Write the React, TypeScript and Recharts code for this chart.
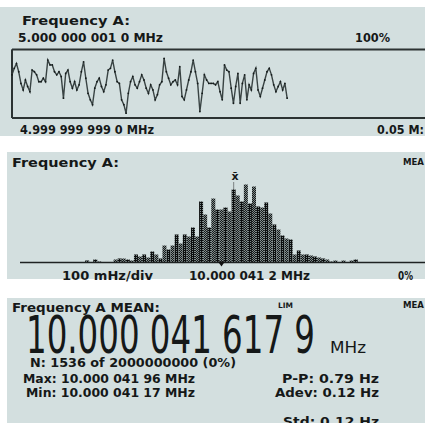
import React from "react";
import {
  LineChart,
  Line,
  BarChart,
  Bar,
  Cell,
  XAxis,
  YAxis,
  CartesianGrid,
  ReferenceLine,
  ReferenceDot,
} from "recharts";

// trend of frequency A, offset from 5 MHz in mHz (top = +1, bottom = -1)
const trendValues = [
  0.26, 0.45, 0.59, 0.35, 0.01, -0.18, 0.11, -0.08, -0.23, 0.4,
  0.35, 0.26, 0.06, 0.06, 0.16, 0.06, 0.69, 0.55, 0.55, 0.35,
  0.26, 0.35, 0.21, -0.42, 0.3, 0.4, 0.06, -0.13, 0.06, -0.18,
  -0.03, 0.35, 0.64, 0.16, -0.28, -0.47, -0.61, -0.13, 0.06, 0.16,
  -0.08, -0.23, -0.03, 0.4, 0.45, 0.69, 0.35, 0.06, 0.01, -0.47,
  -0.61, -0.86, -0.28, 0.06, 0.21, -0.03, -0.13, 0.06, 0.26, 0.11,
  -0.13, -0.28, -0.03, -0.18, -0.47, -0.32, -0.03, 0.06, 0.74, 0.35,
  0.16, -0.03, 0.06, 0.11, -0.03, 0.5, -0.37, -0.47, -0.18, 0.11,
  0.35, 0.69, 0.35, 0.01, -0.81, -0.28, 0.26, 0.11, 0.01, 0.01,
  0.01, -0.03, 0.06, -0.23, -0.47, 0.55, 0.4, 0.35, -0.13, -0.57,
  -0.08, 0.3, -0.57, 0.01, 0.26, -0.47, -0.03, -0.18, 0.3, 0.45,
  -0.18, -0.37, -0.13, 0.11, 0.35, 0.45, 0.26, -0.03, -0.23, -0.08,
  0.06, -0.18, 0.01, -0.42,
];
const trendTicks = [0, 19, 38, 57, 76, 95, 114, 133, 152, 171];

// histogram, 10 mHz bins (100 mHz/div)
const histCounts = [
  0, 0, 0, 0, 0, 0, 0, 0, 0, 0,
  0, 0, 0, 0, 0, 0, 2, 0, 3, 1,
  0, 0, 0, 3, 4, 4, 3, 2, 8, 6,
  8, 5, 11, 8, 4, 17, 13, 17, 28, 19,
  28, 26, 35, 26, 61, 48, 35, 64, 53, 53,
  55, 51, 73, 67, 61, 78, 59, 76, 56, 55,
  60, 49, 38, 33, 27, 24, 23, 8, 12, 8,
  8, 7, 6, 5, 4, 3, 1, 2, 0, 2,
  0, 2, 3, 0, 0, 0, 0, 0, 0, 0,
  0, 0, 0, 0, 0, 0, 0, 0, 0, 0,
];
const histTicks = [0, 10, 20, 30, 40, 50, 60, 70, 80, 90];
const meanBin = 49;
const xbarBin = 52;

const trendData = trendValues.map((f, t) => ({ t, f }));
const histData = histCounts.map((count, bin) => ({ bin, count }));

const BG = "#d3dfdf";
const INK = "#151818";
const FRAME = "#2c3333";
const FONT = "'DejaVu Sans', Verdana, sans-serif";

const T = ({ x, y, w, size = 12.5, weight = 700, family = FONT, anchor, children }: any) => (
  <text
    x={x}
    y={y}
    fontSize={size}
    fontWeight={weight}
    fontFamily={family}
    fill={INK}
    textAnchor={anchor}
    textLength={w}
    lengthAdjust={w ? "spacingAndGlyphs" : undefined}
  >
    {children}
  </text>
);

const panel = (left: number, top: number, width: number, height: number) => ({
  position: "absolute" as const,
  left,
  top,
  width,
  height,
  background: BG,
  overflow: "hidden",
});

export default function App() {
  return (
    <div
      style={{
        position: "absolute",
        left: 0,
        top: 0,
        width: 425,
        height: 423,
        overflow: "hidden",
        background: "#fff",
      }}
    >
      <svg width={0} height={0} style={{ position: "absolute" }}>
        <defs>
          <pattern id="hd" width={2} height={2} patternUnits="userSpaceOnUse">
            <rect width={2} height={2} fill="#0c0e0e" />
            <rect x={1} y={1} width={1} height={1} fill="#7d8a8a" />
          </pattern>
          <pattern id="hl" width={2} height={2} patternUnits="userSpaceOnUse">
            <rect width={2} height={2} fill="#7f8b8b" />
            <rect x={0} y={0} width={1} height={1} fill="#141717" />
            <rect x={1} y={1} width={1} height={1} fill="#141717" />
          </pattern>
        </defs>
      </svg>

      {/* trend panel */}
      <div style={panel(0, 7, 425, 129)}>
        <LineChart
          width={437}
          height={129}
          data={trendData}
          margin={{ top: 40.5, right: 0, bottom: 16, left: 10 }}
        >
          <CartesianGrid
            horizontal={false}
            stroke="#6a7878"
            strokeWidth={2}
            strokeDasharray="2 15.1"
          />
          <XAxis
            dataKey="t"
            type="number"
            domain={[0, 190]}
            ticks={trendTicks}
            height={2}
            tick={false}
            tickSize={3}
            axisLine={{ stroke: FRAME, strokeWidth: 2 }}
            tickLine={{ stroke: FRAME, strokeWidth: 1.5 }}
          />
          <XAxis
            xAxisId="top"
            orientation="top"
            dataKey="t"
            type="number"
            domain={[0, 190]}
            ticks={trendTicks}
            height={2}
            tick={false}
            tickSize={2}
            axisLine={{ stroke: FRAME, strokeWidth: 2 }}
            tickLine={{ stroke: FRAME, strokeWidth: 1.5 }}
          />
          <YAxis
            type="number"
            domain={[-1, 1]}
            ticks={[-0.5, 0, 0.5]}
            width={2}
            tick={false}
            tickSize={3}
            axisLine={{ stroke: FRAME, strokeWidth: 2 }}
            tickLine={{ stroke: FRAME, strokeWidth: 1.5 }}
          />
          <Line
            type="linear"
            dataKey="f"
            stroke="#394343"
            strokeWidth={1.4}
            dot={{ r: 0.9, fill: "#141a1a", stroke: "none" }}
            isAnimationActive={false}
          />
        </LineChart>
      </div>

      {/* histogram panel */}
      <div style={panel(7, 152, 418, 127)}>
        <BarChart
          width={420}
          height={127}
          data={histData}
          barCategoryGap={0}
          barGap={0}
          margin={{ top: 10.5, right: 0, bottom: 14.5, left: 13 }}
        >
          <XAxis
            dataKey="bin"
            type="category"
            ticks={histTicks}
            interval={0}
            height={2}
            tick={false}
            tickSize={4}
            axisLine={{ stroke: "#1e2222", strokeWidth: 1.5 }}
            tickLine={{ stroke: "#1e2222", strokeWidth: 1.2 }}
          />
          <YAxis hide domain={[0, 100]} />
          <Bar dataKey="count" isAnimationActive={false}>
            {histData.map((d) => (
              <Cell key={d.bin} fill={d.bin % 2 === 0 ? "url(#hd)" : "url(#hl)"} />
            ))}
          </Bar>
          <ReferenceLine
            segment={[
              { x: xbarBin, y: 73 },
              { x: xbarBin, y: 81 },
            ]}
            stroke="#222"
            strokeDasharray="1 1"
          />
          <ReferenceDot
            x={meanBin}
            y={0}
            shape={(p: any) => (
              <path
                d={`M${p.cx - 3.5},${p.cy - 1} L${p.cx + 3.5},${p.cy - 1} L${p.cx},${p.cy + 4} Z`}
                fill="#111"
              />
            )}
          />
        </BarChart>
      </div>

      {/* statistics panel */}
      <div style={panel(7, 298, 418, 125)} />

      <svg
        width={425}
        height={423}
        style={{ position: "absolute", left: 0, top: 0, pointerEvents: "none" }}
      >
        <T x={22} y={25} w={108}>Frequency A:</T>
        <T x={18} y={42} w={145}>5.000 000 001 0 MHz</T>
        <T x={355} y={42} w={35}>100%</T>
        <T x={20} y={134} w={134}>4.999 999 999 0 MHz</T>
        <T x={377} y={134} w={47}>0.05 M:</T>

        <T x={12} y={167} w={107}>Frequency A:</T>
        <T x={403} y={165} size={8.5} w={21}>MEA</T>
        <T x={235} y={180} size={11} anchor="middle">x̄</T>
        <T x={62} y={280} w={91}>100 mHz/div</T>
        <T x={189} y={280} w={121}>10.000 041 2 MHz</T>
        <T x={398} y={280} w={15}>0%</T>

        <T x={12} y={312} w={148}>Frequency A MEAN:</T>
        <T x={278} y={308} size={7.5} w={15}>LIM</T>
        <T x={403} y={308} size={8.5} w={21}>MEA</T>
        <T
          x={26}
          y={353}
          w={289}
          size={52}
          weight={400}
          family="'DejaVu Sans Condensed', 'DejaVu Sans', sans-serif"
        >
          10.000 041 617 9
        </T>
        <T x={330} y={353} w={36} size={15} weight={400}>MHz</T>
        <T x={30} y={367} w={206}>N: 1536 of 2000000000 (0%)</T>
        <T x={23} y={383} w={172}>Max: 10.000 041 96 MHz</T>
        <T x={26} y={397} w={169}>Min: 10.000 041 17 MHz</T>
        <T x={282} y={383} w={97}>P-P: 0.79 Hz</T>
        <T x={275} y={397} w={104}>Adev: 0.12 Hz</T>
        <T x={283} y={426} w={96}>Std: 0.12 Hz</T>
      </svg>
    </div>
  );
}
